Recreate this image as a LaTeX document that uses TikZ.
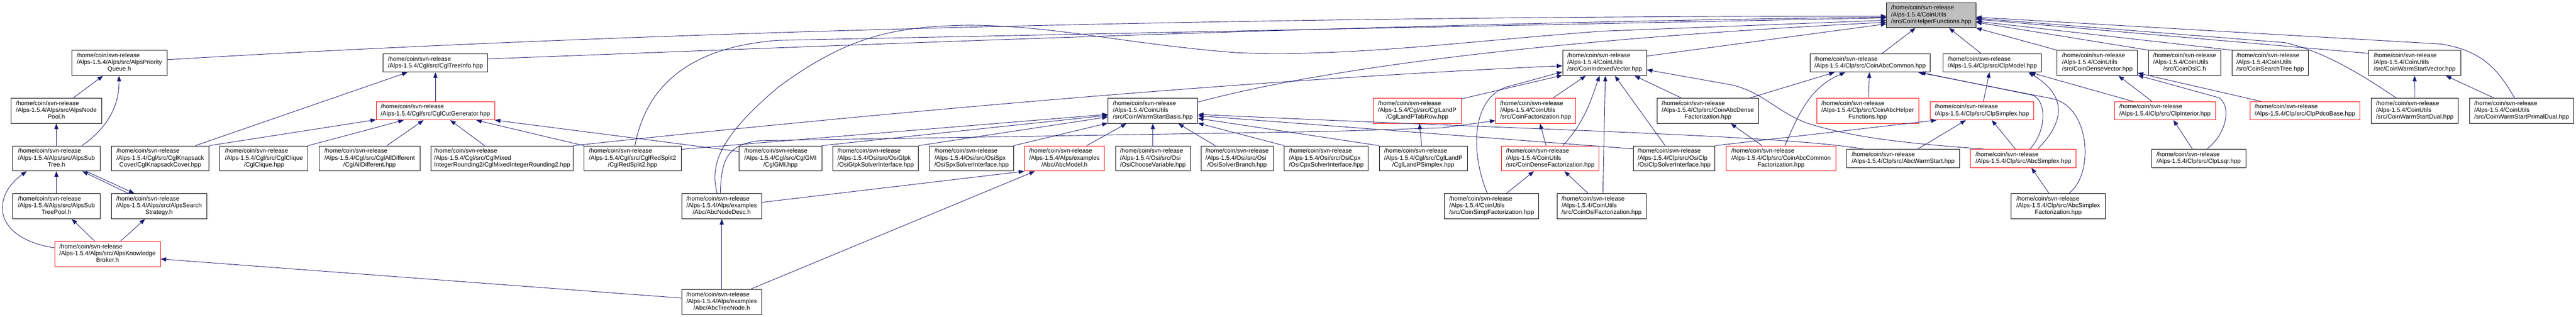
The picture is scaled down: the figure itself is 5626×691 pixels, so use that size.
\documentclass[tikz,border=0pt]{standalone}
\usepackage{fontspec}
\setmainfont{Liberation Sans}
\usetikzlibrary{arrows.meta}
\definecolor{edgeblue}{HTML}{191970}
\definecolor{rootgray}{HTML}{BFBFBF}
\newcommand\LblThree[2]{\begin{tabular}{@{}l@{}}/home/coin/svn-release\\#1\\\multicolumn{1}{@{}c@{}}{#2}\end{tabular}}
\newcommand\LblTwo[1]{\begin{tabular}{@{}l@{}}/home/coin/svn-release\\\multicolumn{1}{@{}c@{}}{#1}\end{tabular}}
\begin{document}
\begin{tikzpicture}[x=1pt,y=1pt,
  nodebox/.style={draw=black,line width=1pt,inner sep=0pt,rectangle,fill=white,
    font=\fontsize{13.33}{14.67}\selectfont,text=black},
  nb/.style 2 args={nodebox,minimum width=#1pt,minimum height=#2pt},
  rb/.style={draw=red},
  gr/.style={fill=rootgray},
  e/.style={draw=edgeblue,line width=1pt,-{Triangle[length=12pt,width=9pt]}}]
\fill[white] (0,0) rectangle (5626,-691);
\useasboundingbox (0,0) rectangle (5626,-691);
% row 0
\node[nb={195}{55},gr] (HF) at (4217.8,-33.1) {\LblThree{/Alps-1.5.4/CoinUtils}{/src/CoinHelperFunctions.hpp}};
% row 1
\node[nb={208}{55}] (PQ) at (260.7,-137.4) {\LblThree{/Alps-1.5.4/Alps/src/AlpsPriority}{Queue.h}};
\node[nb={228}{40}] (TI) at (951,-137.4) {\LblTwo{/Alps-1.5.4/Cgl/src/CglTreeInfo.hpp}};
\node[nb={183.6}{55}] (IV) at (3504.5,-137.4) {\LblThree{/Alps-1.5.4/CoinUtils}{/src/CoinIndexedVector.hpp}};
\node[nb={262.7}{40}] (ACom) at (4084.3,-137.4) {\LblTwo{/Alps-1.5.4/Clp/src/CoinAbcCommon.hpp}};
\node[nb={215}{40}] (CM) at (4351.2,-137.4) {\LblTwo{/Alps-1.5.4/Clp/src/ClpModel.hpp}};
\node[nb={175.6}{55}] (DV) at (4580.5,-137.4) {\LblThree{/Alps-1.5.4/CoinUtils}{/src/CoinDenseVector.hpp}};
\node[nb={157.3}{55}] (OSLC) at (4771.3,-137.4) {\LblThree{/Alps-1.5.4/CoinUtils}{/src/CoinOslC.h}};
\node[nb={166.6}{55}] (CST) at (4958,-137.4) {\LblThree{/Alps-1.5.4/CoinUtils}{/src/CoinSearchTree.hpp}};
\node[nb={201.6}{55}] (WSV) at (5273.5,-137.4) {\LblThree{/Alps-1.5.4/CoinUtils}{/src/CoinWarmStartVector.hpp}};
% row 2
\node[nb={198.6}{55}] (NP) at (123,-241.8) {\LblThree{/Alps-1.5.4/Alps/src/AlpsNode}{Pool.h}};
\node[nb={258.6}{40},rb] (CG) at (951,-241.8) {\LblTwo{/Alps-1.5.4/Cgl/src/CglCutGenerator.hpp}};
\node[nb={196.3}{55}] (WSB) at (2517.8,-241.8) {\LblThree{/Alps-1.5.4/CoinUtils}{/src/CoinWarmStartBasis.hpp}};
\node[nb={192}{55},rb] (TR) at (3095.3,-241.8) {\LblThree{/Alps-1.5.4/Cgl/src/CglLandP}{/CglLandPTabRow.hpp}};
\node[nb={175}{55},rb] (CF) at (3353.8,-241.8) {\LblThree{/Alps-1.5.4/CoinUtils}{/src/CoinFactorization.hpp}};
\node[nb={222.6}{55}] (ADF) at (3730,-241.8) {\LblThree{/Alps-1.5.4/Clp/src/CoinAbcDense}{Factorization.hpp}};
\node[nb={222.6}{55},rb] (AHF) at (4079,-241.8) {\LblThree{/Alps-1.5.4/Clp/src/CoinAbcHelper}{Functions.hpp}};
\node[nb={227}{40},rb] (CS) at (4328.5,-241.8) {\LblTwo{/Alps-1.5.4/Clp/src/ClpSimplex.hpp}};
\node[nb={220}{40},rb] (CI) at (4728.3,-241.8) {\LblTwo{/Alps-1.5.4/Clp/src/ClpInterior.hpp}};
\node[nb={240.3}{40},rb] (PB) at (5033.8,-241.8) {\LblTwo{/Alps-1.5.4/Clp/src/ClpPdcoBase.hpp}};
\node[nb={191}{55}] (WSD) at (5273.8,-241.8) {\LblThree{/Alps-1.5.4/CoinUtils}{/src/CoinWarmStartDual.hpp}};
\node[nb={227}{55}] (WSPD) at (5507.2,-241.8) {\LblThree{/Alps-1.5.4/CoinUtils}{/src/CoinWarmStartPrimalDual.hpp}};
% row 3
\node[nb={191}{55}] (ST) at (123.2,-345.9) {\LblThree{/Alps-1.5.4/Alps/src/AlpsSub}{Tree.h}};
\node[nb={213.4}{55}] (KC) at (350,-345.9) {\LblThree{/Alps-1.5.4/Cgl/src/CglKnapsack}{Cover/CglKnapsackCover.hpp}};
\node[nb={192.4}{55}] (CQ) at (576.5,-345.9) {\LblThree{/Alps-1.5.4/Cgl/src/CglClique}{/CglClique.hpp}};
\node[nb={220.3}{55}] (AD) at (807.2,-345.9) {\LblThree{/Alps-1.5.4/Cgl/src/CglAllDifferent}{/CglAllDifferent.hpp}};
\node[nb={310.7}{55}] (MIR) at (1096.7,-345.9) {\LblThree{/Alps-1.5.4/Cgl/src/CglMixed}{IntegerRounding2/CglMixedIntegerRounding2.hpp}};
\node[nb={212.4}{55}] (RS) at (1381.5,-345.9) {\LblThree{/Alps-1.5.4/Cgl/src/CglRedSplit2}{/CglRedSplit2.hpp}};
\node[nb={180.4}{55}] (GMI) at (1704.5,-345.9) {\LblThree{/Alps-1.5.4/Cgl/src/CglGMI}{/CglGMI.hpp}};
\node[nb={187}{55}] (GLPK) at (1912.5,-345.9) {\LblThree{/Alps-1.5.4/Osi/src/OsiGlpk}{/OsiGlpkSolverInterface.hpp}};
\node[nb={182.6}{55}] (SPX) at (2122,-345.9) {\LblThree{/Alps-1.5.4/Osi/src/OsiSpx}{/OsiSpxSolverInterface.hpp}};
\node[nb={174.7}{55},rb] (AM) at (2324.7,-345.9) {\LblThree{/Alps-1.5.4/Alps/examples}{/Abc/AbcModel.h}};
\node[nb={163}{55}] (CV) at (2517.8,-345.9) {\LblThree{/Alps-1.5.4/Osi/src/Osi}{/OsiChooseVariable.hpp}};
\node[nb={157.7}{55}] (SB) at (2701.8,-345.9) {\LblThree{/Alps-1.5.4/Osi/src/Osi}{/OsiSolverBranch.hpp}};
\node[nb={183}{55}] (CPX) at (2896.5,-345.9) {\LblThree{/Alps-1.5.4/Osi/src/OsiCpx}{/OsiCpxSolverInterface.hpp}};
\node[nb={192.4}{55}] (LPS) at (3108.5,-345.9) {\LblThree{/Alps-1.5.4/Cgl/src/CglLandP}{/CglLandPSimplex.hpp}};
\node[nb={213.3}{55},rb] (CDF) at (3385.7,-345.9) {\LblThree{/Alps-1.5.4/CoinUtils}{/src/CoinDenseFactorization.hpp}};
\node[nb={178.7}{55}] (OCLP) at (3656.3,-345.9) {\LblThree{/Alps-1.5.4/Clp/src/OsiClp}{/OsiClpSolverInterface.hpp}};
\node[nb={239}{55},rb] (ACF) at (3889.8,-345.9) {\LblThree{/Alps-1.5.4/Clp/src/CoinAbcCommon}{Factorization.hpp}};
\node[nb={247}{40}] (AWS) at (4156.5,-345.9) {\LblTwo{/Alps-1.5.4/Clp/src/AbcWarmStart.hpp}};
\node[nb={230.6}{40},rb] (ASX) at (4419,-345.9) {\LblTwo{/Alps-1.5.4/Clp/src/AbcSimplex.hpp}};
\node[nb={205.7}{40}] (LSQR) at (4801.8,-345.9) {\LblTwo{/Alps-1.5.4/Clp/src/ClpLsqr.hpp}};
% row 4
\node[nb={191}{55}] (STP) at (123.2,-450.1) {\LblThree{/Alps-1.5.4/Alps/src/AlpsSub}{TreePool.h}};
\node[nb={208}{55}] (SS) at (347.3,-450.1) {\LblThree{/Alps-1.5.4/Alps/src/AlpsSearch}{Strategy.h}};
\node[nb={175.3}{55}] (ND) at (1576.3,-450.1) {\LblThree{/Alps-1.5.4/Alps/examples}{/Abc/AbcNodeDesc.h}};
\node[nb={205.7}{55}] (CSF) at (3257.8,-450.1) {\LblThree{/Alps-1.5.4/CoinUtils}{/src/CoinSimpFactorization.hpp}};
\node[nb={195}{55}] (OSL) at (3497.8,-450.1) {\LblThree{/Alps-1.5.4/CoinUtils}{/src/CoinOslFactorization.hpp}};
\node[nb={205.7}{55}] (ASF) at (4495.2,-450.1) {\LblThree{/Alps-1.5.4/Clp/src/AbcSimplex}{Factorization.hpp}};
% row 5, 6
\node[nb={231}{55},rb] (KB) at (234.8,-554.3) {\LblThree{/Alps-1.5.4/Alps/src/AlpsKnowledge}{Broker.h}};
\node[nb={175.3}{55}] (TN) at (1576.3,-658.8) {\LblThree{/Alps-1.5.4/Alps/examples}{/Abc/AbcTreeNode.h}};

% ---- Alps edges
\draw[e] ([xshift=37]NP.north) -- ([xshift=-35.7]PQ.south);
\draw[e] ([xshift=55.8]ST.north) to[out=35,in=-90] ([xshift=-0.7]PQ.south);
\draw[e] (ST.north) -- (NP.south);
\draw[e] (STP.north) -- (ST.south);
\draw[e] ([xshift=-67.3]SS.north) -- ([xshift=56.8]ST.south);
\draw[e] ([xshift=65.1]ST.south) -- ([xshift=-54]SS.north);
\draw[e] ([xshift=-28.1]KB.north) -- ([xshift=33.5]STP.south);
\draw[e] ([xshift=28.5]KB.north) -- ([xshift=-30.6]SS.south);
\draw[e] ([yshift=13.3]KB.west) .. controls (-15,-520) and (-20,-430) .. ([xshift=-64.9]ST.south);
\draw[e] ([yshift=8.2]TN.west) -- ([yshift=-11.1]KB.east);
\draw[e] ([yshift=7.1]PQ.east) .. controls (1200,-80) and (2500,-35) .. ([yshift=-2.2]HF.west);
% ---- Cgl edges
\draw[e] ([xshift=76.7]KC.north) -- ([xshift=-61]TI.south);
\draw[e] (KC.north east) -- ([yshift=1]CG.south west);
\draw[e] (CQ.north east) -- ([xshift=-69.3]CG.south);
\draw[e] ([xshift=37.8]AD.north) -- ([xshift=-26]CG.south);
\draw[e] (CG.north) -- (TI.south);
\draw[e] ([yshift=8.9]TI.east) .. controls (1700,-105) and (3000,-50) .. ([yshift=-4.4]HF.west);
\draw[e] ([xshift=-38.4]MIR.north) -- ([xshift=32.3]CG.south);
\draw[e] (MIR.north east) .. controls (1700,-270) and (2600,-180) .. ([yshift=-6.2]IV.west);
\draw[e] (RS.north west) -- ([xshift=89]CG.south);
\draw[e] ([xshift=5.2]RS.north) .. controls (1405,-220) and (1470,-105) .. (1700,-88) -- ([yshift=-5.8]HF.west);
\draw[e] ([yshift=-8]RS.north east) -- ([yshift=-7.8]WSB.west);
\draw[e] ([yshift=-12.8]GMI.north west) -- (CG.south east);
\draw[e] (GMI.north east) -- ([yshift=-10]WSB.west);
% ---- Osi / Abc edges
\draw[e] (GLPK.north east) -- ([yshift=-13.5]WSB.west);
\draw[e] (SPX.north east) -- ([yshift=1]WSB.south west);
\draw[e] ([xshift=48.6]AM.north) -- ([xshift=-57.8]WSB.south);
\draw[e] (CV.north) -- (WSB.south);
\draw[e] ([xshift=-47.8]SB.north) -- ([xshift=55.5]WSB.south);
\draw[e] (CPX.north west) -- ([yshift=1]WSB.south east);
\draw[e] (LPS.north west) -- ([yshift=-16.6]WSB.east);
\draw[e] ([yshift=-7]OCLP.north west) -- ([yshift=-10.9]WSB.east);
\draw[e] ([xshift=-86.5]AWS.north) .. controls (3900,-295) and (3300,-282) .. ([yshift=-7.8]WSB.east);
\draw[e] ([xshift=-3.5]LPS.north) -- ([xshift=4.7]TR.south);
\draw[e] ([yshift=-2]TR.north east) -- ([yshift=1]IV.south west);
\draw[e] ([xshift=-3]ND.north) .. controls (1575,-345) and (1590,-315) .. (1660,-307) -- (2900,-287) -- (3150,-279) -- ([yshift=6.5]CF.south west);
\draw[e] ([xshift=-10]ND.north) .. controls (1550,-360) and (1570,-300) .. (1700,-190) .. controls (1850,-80) and (1950,-58) .. (2113,-55) .. controls (2300,-55) and (2450,-95) .. (2700,-115) .. controls (2950,-125) and (3200,-90) .. (3500,-68) -- ([yshift=-11.1]HF.west);
\draw[e] ([yshift=8.4]ND.east) -- (AM.south west);
\draw[e] ([xshift=63.7]TN.north) -- ([xshift=-64.7]AM.south);
\draw[e] (TN.north) -- (ND.south);
\draw[e] ([yshift=-9]WSB.north east) .. controls (2850,-160) and (3300,-90) .. ([yshift=-15.5]HF.west);
% ---- CoinUtils edges
\draw[e] ([xshift=37.9]CF.north) -- ([xshift=-41.2]IV.south);
\draw[e] ([xshift=-9]CDF.north) -- ([xshift=9.5]CF.south);
\draw[e] ([xshift=27.6]CDF.north) to[out=48,in=-109] ([xshift=-11.2]IV.south);
\draw[e] ([xshift=32]CSF.north) -- ([xshift=-35.7]CDF.south);
\draw[e] ([xshift=-9.5]CSF.north) .. controls (3210,-330) and (3215,-215) .. (3290,-190) -- ([yshift=-19.4]IV.west);
\draw[e] ([xshift=-29.5]OSL.north) -- ([xshift=31]CDF.south);
\draw[e] ([xshift=2.9]OSL.north) -- ([xshift=1.5]IV.south);
\draw[e] ([yshift=-13]IV.north east) -- ([yshift=-19]HF.west);
\draw[e] ([xshift=-19.6]OCLP.north) -- ([xshift=22.2]IV.south);
\draw[e] (OCLP.north east) -- ([xshift=15]CS.south west);
% ---- Clp edges
\draw[e] ([xshift=-58]ADF.north) -- ([xshift=65.5]IV.south);
\draw[e] ([xshift=91.7]ADF.north) -- ([xshift=-77.6]ACom.south);
\draw[e] ([xshift=-41.5]ACF.north) -- ([xshift=50]ADF.south);
\draw[e] ([xshift=8.5]ACF.north) to[out=67,in=-157] ([xshift=-54.3]ACom.south);
\draw[e] ([xshift=2]AHF.north) -- ([xshift=-1.6]ACom.south);
\draw[e] ([xshift=25.7]ACom.north) -- ([xshift=-34.5]HF.south);
\draw[e] ([xshift=31.8]AWS.north) -- ([xshift=-35.2]CS.south);
\draw[e] ([xshift=-85.7]ASX.north) .. controls (4150,-312) and (4050,-300) .. (3950,-270) .. controls (3880,-245) and (3850,-200) .. (3780,-185) -- ([yshift=-15]IV.east);
\draw[e] ([xshift=-17.3]ASX.north) -- ([xshift=21.5]CS.south);
\draw[e] ([xshift=31]ASX.north) to[out=45,in=-31,looseness=1.4] ([xshift=78.8]CM.south);
\draw[e] ([xshift=14.3]ASX.north) .. controls (4470,-285) and (4470,-222) .. (4440,-208) -- ([xshift=109]ACom.south);
\draw[e] ([xshift=23.1]ASF.north) .. controls (4575,-380) and (4565,-230) .. (4480,-215) -- ([xshift=105]ACom.south);
\draw[e] ([xshift=-20.2]ASF.north) -- ([xshift=17.7]ASX.south);
\draw[e] ([xshift=3.2]CS.north) -- ([xshift=-6.2]CM.south);
\draw[e] ([xshift=-24.5]CM.north) -- ([xshift=38.9]HF.south);
\draw[e] ([xshift=-70]CI.north) -- ([xshift=82.1]CM.south);
\draw[e] ([xshift=-28.3]CI.north) -- ([xshift=46.2]DV.south);
\draw[e] ([xshift=-13.5]LSQR.north) -- ([xshift=18.4]CI.south);
\draw[e] ([xshift=18.2]LSQR.north) .. controls (4870,-285) and (4870,-225) .. (4845,-213) -- ([yshift=1]DV.south east);
\draw[e] ([xshift=-95.5]PB.north) -- ([yshift=6]DV.south east);
\draw[e] (DV.north west) -- (HF.south east);
\draw[e] (OSLC.north west) -- ([yshift=-15.5]HF.east);
\draw[e] (CST.north west) -- ([yshift=-13.3]HF.east);
\draw[e] ([yshift=-7]WSV.north west) -- ([yshift=-8.9]HF.east);
\draw[e] ([xshift=-40.5]WSD.north) .. controls (5190,-185) and (5090,-115) .. (4990,-93) -- ([yshift=-6.7]HF.east);
\draw[e] ([xshift=-15.5]WSPD.north) .. controls (5455,-150) and (5420,-110) .. (5330,-96) -- ([yshift=-4.4]HF.east);
\draw[e] (WSD.north) -- (WSV.south);
\draw[e] ([xshift=-60.5]WSPD.north) -- ([xshift=68.2]WSV.south);
\end{tikzpicture}
\end{document}
